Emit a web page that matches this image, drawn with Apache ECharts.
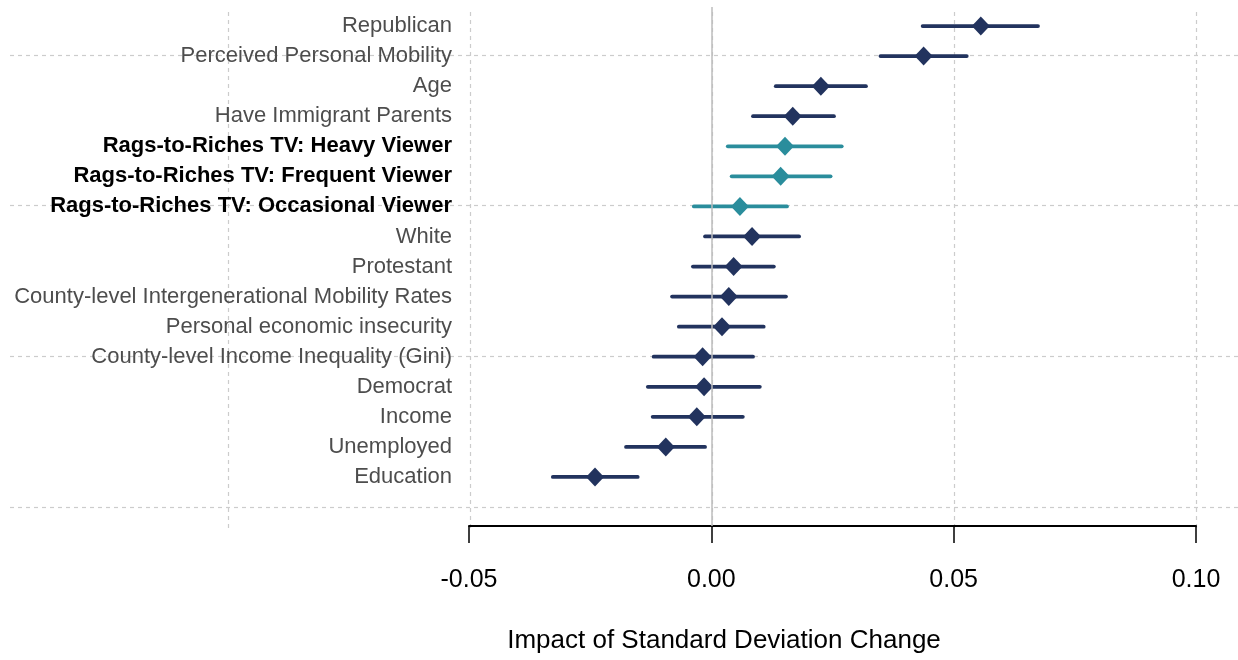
<!DOCTYPE html>
<html>
<head>
<meta charset="utf-8">
<script src="https://cdn.jsdelivr.net/npm/echarts@6/dist/echarts.min.js"></script>
<style>
html,body{margin:0;padding:0;background:#fff;}
#chart{width:1238px;height:660px;}
</style>
</head>
<body>
<div id="chart"></div>
<script>
// Categories, bottom to top
const categories = [
  'Education',
  'Unemployed',
  'Income',
  'Democrat',
  'County-level Income Inequality (Gini)',
  'Personal economic insecurity',
  'County-level Intergenerational Mobility Rates',
  'Protestant',
  'White',
  'Rags-to-Riches TV: Occasional Viewer',
  'Rags-to-Riches TV: Frequent Viewer',
  'Rags-to-Riches TV: Heavy Viewer',
  'Have Immigrant Parents',
  'Age',
  'Perceived Personal Mobility',
  'Republican'
];
const estimates = [-0.0240, -0.0094, -0.0030, -0.0015, -0.0018, 0.0022, 0.0036, 0.0046, 0.0084, 0.0059, 0.0143, 0.0152, 0.0168, 0.0226, 0.0438, 0.0556];
const lower     = [-0.0327, -0.0176, -0.0121, -0.0131, -0.0119, -0.0067, -0.0081, -0.0038, -0.0013, -0.0036, 0.0042, 0.0034, 0.0086, 0.0133, 0.0349, 0.0436];
const upper     = [-0.0152, -0.0013, 0.0065, 0.0100, 0.0086, 0.0108, 0.0154, 0.0129, 0.0181, 0.0156, 0.0246, 0.0269, 0.0253, 0.0319, 0.0527, 0.0674];
const isTV      = [false, false, false, false, false, false, false, false, false, true, true, true, false, false, false, false];
const xTicks = [-0.05, 0.00, 0.05, 0.10];
const xTitle = 'Impact of Standard Deviation Change';

const NAVY = '#22335e';
const TEAL = '#2a8d9c';
const FONT = '"Liberation Sans", Arial, Helvetica, sans-serif';

const barData = categories.map((c, i) => ({value: [lower[i], upper[i], i], itemStyle: {color: isTV[i] ? TEAL : NAVY}}));
const pointData = categories.map((c, i) => ({value: [estimates[i], i], itemStyle: {color: isTV[i] ? TEAL : NAVY, opacity: 1}}));

const chart = echarts.init(document.getElementById('chart'), null, {renderer: 'canvas'});
const dashed = {show: true, lineStyle: {color: '#cccccc', type: [4, 4], width: 1.2}};

const option = {
  backgroundColor: '#ffffff',
  animation: false,
  grid: [
    // horizontal dashed lines
    {left: 10, right: 0, top: 55, height: 452},
    // vertical dashed lines
    {left: 228, width: 968, top: 12, height: 516},
    // data
    {left: 469, width: 727, top: 11, height: 481},
    // visible x axis
    {left: 469, width: 727, top: 7, height: 519}
  ],
  xAxis: [
    {gridIndex: 0, type: 'value', min: 0, max: 1, show: false},
    {gridIndex: 1, type: 'value', min: -0.1, max: 0.1, interval: 0.05,
     axisLine: {show: false}, axisTick: {show: false}, axisLabel: {show: false}, splitLine: dashed},
    {gridIndex: 2, type: 'value', min: -0.05, max: 0.10, show: false},
    {gridIndex: 3, type: 'value', min: -0.05, max: 0.10, interval: 0.05,
     axisLine: {show: true, onZero: false, lineStyle: {color: '#000', width: 2}},
     axisTick: {show: true, inside: false, length: 17, lineStyle: {color: '#000', width: 1.5}},
     axisLabel: {show: true, margin: 42, fontSize: 25, color: '#000', fontFamily: FONT,
       formatter: v => v.toFixed(2)},
     splitLine: {show: false}}
  ],
  yAxis: [
    {gridIndex: 0, type: 'value', min: 0, max: 15, interval: 5,
     axisLine: {show: false}, axisTick: {show: false}, axisLabel: {show: false}, splitLine: dashed},
    {gridIndex: 1, type: 'value', min: 0, max: 1, show: false},
    {gridIndex: 2, type: 'category', data: categories,
     axisLine: {show: false}, axisTick: {show: false}, splitLine: {show: false},
     axisLabel: {show: true, margin: 17, fontSize: 22, color: '#4d4d4d', fontFamily: FONT,
       formatter: (v) => v.indexOf('Rags-to-Riches') === 0 ? '{b|' + v + '}' : v,
       rich: {b: {fontWeight: 'bold', color: '#000', fontSize: 22, fontFamily: FONT}}}},
    {gridIndex: 3, type: 'value', min: 0, max: 1, show: false}
  ],
  series: [
    {
      type: 'line', xAxisIndex: 3, yAxisIndex: 3, data: [], silent: true,
      markLine: {silent: true, symbol: 'none', label: {show: false},
        lineStyle: {color: '#bdbdbd', type: 'solid', width: 1.5},
        data: [{xAxis: 0}]}
    },
    {
      type: 'custom', xAxisIndex: 2, yAxisIndex: 2, data: barData,
      encode: {x: [0, 1], y: 2},
      renderItem: function (params, api) {
        const a = api.coord([api.value(0), api.value(2)]);
        const b = api.coord([api.value(1), api.value(2)]);
        return {type: 'line', shape: {x1: a[0], y1: a[1], x2: b[0], y2: b[1]},
          style: {stroke: api.visual('color'), lineWidth: 3.8, lineCap: 'round'}};
      },
      z: 3
    },
    {
      type: 'scatter', xAxisIndex: 2, yAxisIndex: 2, data: pointData,
      symbol: 'diamond', symbolSize: [18, 19], z: 4,
      itemStyle: {opacity: 1}
    }
  ],
  graphic: [
    {type: 'text', x: 724, y: 641, style: {text: xTitle, fill: '#000', font: '26px ' + FONT,
      textAlign: 'center', textVerticalAlign: 'middle'}}
  ]
};
chart.setOption(option);
</script>
</body>
</html>
